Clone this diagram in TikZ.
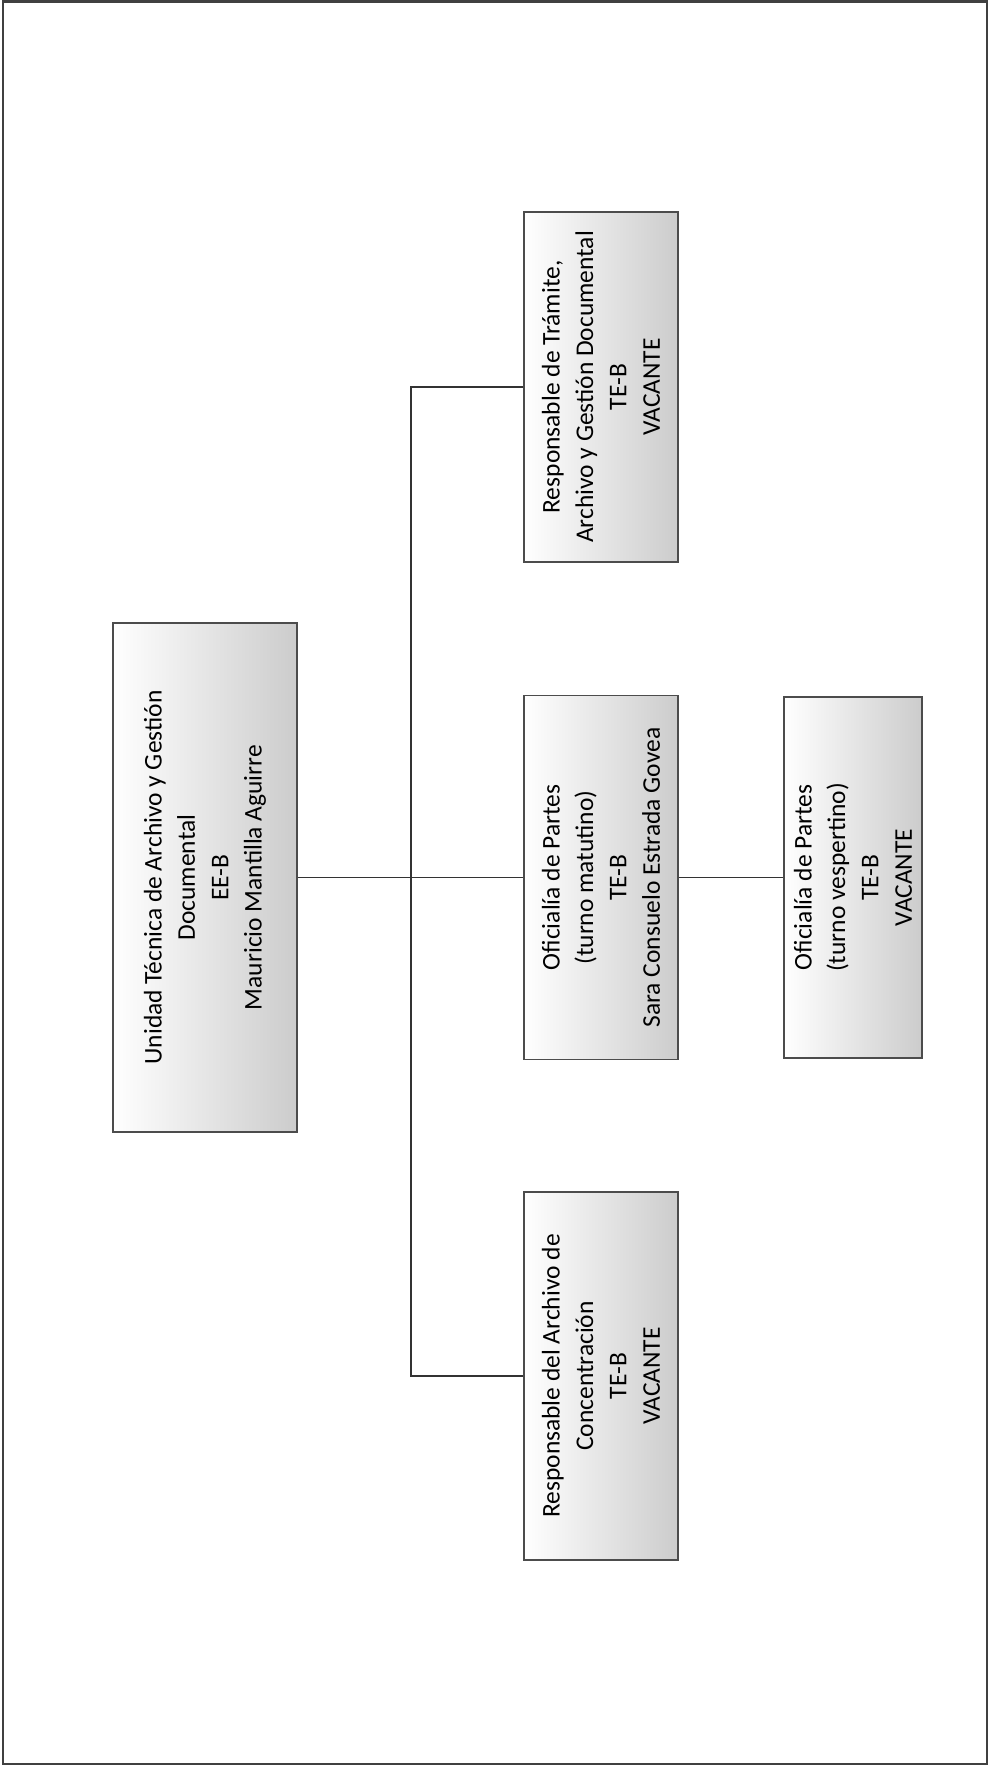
\documentclass[tikz,border=0pt]{standalone}
\usepackage{fontspec}
\setmainfont{Carlito}
\tikzset{
  cargo/.style={draw=black!70,line width=0.7pt,rotate=90,align=center,inner sep=2pt,
    left color=white,right color=black!20,font=\fontsize{14.5}{19}\selectfont},
  liga/.style={draw=black!80,line width=0.6pt}
}
\begin{document}
\begin{tikzpicture}
\useasboundingbox (0,0) rectangle (19.8,-35.34);
\draw[black!75,line width=1.2pt] (0.06,-0.03) rectangle (19.74,-35.28);

\node[cargo,minimum width=10.18cm,minimum height=3.68cm] (unidad) at (4.10,-17.55)
  {Unidad Técnica de Archivo y Gestión\\Documental\\EE-B\\Mauricio Mantilla Aguirre};
\node[cargo,minimum width=7.0cm,minimum height=3.08cm] (tram) at (12.02,-7.74)
  {Responsable de Trámite,\\Archivo y Gestión Documental\\TE-B\\VACANTE};
\node[cargo,minimum width=7.28cm,minimum height=3.08cm] (mat) at (12.02,-17.55)
  {Oficialía de Partes\\(turno matutino)\\TE-B\\Sara Consuelo Estrada Govea};
\node[cargo,minimum width=7.22cm,minimum height=2.76cm] (vesp) at (17.06,-17.55)
  {Oficialía de Partes\\(turno vespertino)\\TE-B\\VACANTE};
\node[cargo,minimum width=7.36cm,minimum height=3.08cm] (conc) at (12.02,-27.52)
  {Responsable del Archivo de\\Concentración\\TE-B\\VACANTE};

\coordinate (trunk) at (8.22,-17.55);
\draw[liga] (unidad.south) -- (mat.north);
\draw[liga] (tram.north) -| (trunk) |- (conc.north);
\draw[liga] (mat.south) -- (vesp.north);
\end{tikzpicture}
\end{document}
